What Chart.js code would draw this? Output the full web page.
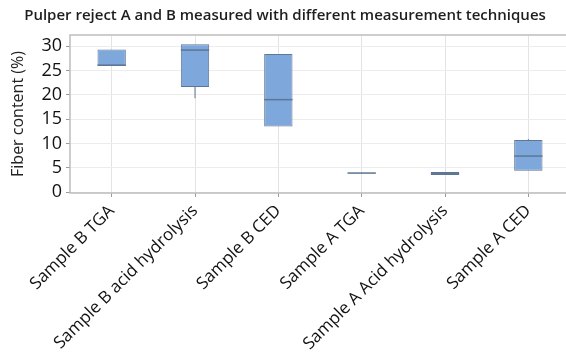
<!DOCTYPE html>
<html>
<head>
<meta charset="utf-8">
<script src="https://cdn.jsdelivr.net/npm/chart.js@4.4.1/dist/chart.umd.min.js"></script>
<style>
  html, body { margin: 0; padding: 0; background: #fff; overflow: hidden; }
  #wrap { width: 570px; height: 359px; }
</style>
</head>
<body>
<div id="wrap"><canvas id="boxChart" width="570" height="359"></canvas></div>
<script>
const categories = [
  'Sample B TGA',
  'Sample B acid hydrolysis',
  'Sample B CED',
  'Sample A TGA',
  'Sample A Acid hydrolysis',
  'Sample A CED'
];
// box statistics (Fiber content, %)
const whiskerLow = [25.9, 19.3, 13.5, 3.9, 3.5, 4.4];
const q1 = [25.9, 21.6, 13.5, 3.85, 3.5, 4.4];
const median = [26.1, 29.2, 19.0, 3.9, 3.8, 7.4];
const q3 = [29.3, 30.4, 28.4, 3.95, 4.1, 10.7];
const whiskerHigh = [29.3, 30.4, 28.4, 3.9, 4.1, 10.9];
const yTicks = [0, 5, 10, 15, 20, 25, 30];

const boxColor = '#7ea8dc';
const edgeColor = '#5f7694';

const boxExtras = {
  id: 'boxExtras',
  afterDatasetsDraw(chart) {
    const { ctx, scales: { x, y } } = chart;
    const meta = chart.getDatasetMeta(0);
    ctx.save();
    ctx.strokeStyle = edgeColor;
    meta.data.forEach((bar, i) => {
      const cx = x.getPixelForValue(i);
      const half = bar.width / 2;
      // whiskers
      ctx.lineWidth = 1;
      ctx.beginPath();
      ctx.moveTo(cx, y.getPixelForValue(q1[i]));
      ctx.lineTo(cx, y.getPixelForValue(whiskerLow[i]));
      ctx.moveTo(cx, y.getPixelForValue(q3[i]));
      ctx.lineTo(cx, y.getPixelForValue(whiskerHigh[i]));
      ctx.stroke();
      // median
      ctx.lineWidth = 1.5;
      ctx.beginPath();
      const my = y.getPixelForValue(median[i]);
      ctx.moveTo(cx - half, my);
      ctx.lineTo(cx + half, my);
      ctx.stroke();
    });
    ctx.restore();
  }
};

const frame = {
  id: 'frame',
  beforeDatasetsDraw(chart) {
    const { ctx, chartArea: a } = chart;
    ctx.save();
    ctx.strokeStyle = '#bdbdbd';
    ctx.lineWidth = 1.5;
    ctx.strokeRect(a.left, a.top, a.right - a.left, a.bottom - a.top);
    ctx.restore();
  }
};

const ctx = document.getElementById('boxChart').getContext('2d');
new Chart(ctx, {
  type: 'bar',
  data: {
    labels: categories,
    datasets: [{
      label: 'Fiber content',
      data: q1.map((v, i) => [v, q3[i]]),
      backgroundColor: boxColor,
      borderColor: edgeColor,
      borderWidth: 1,
      borderSkipped: false,
      barPercentage: 0.34,
      categoryPercentage: 1
    }]
  },
  options: {
    responsive: false,
    animation: false,
    layout: { padding: 0 },
    plugins: {
      legend: { display: false },
      tooltip: { enabled: false },
      title: {
        display: true,
        text: 'Pulper reject A and B measured with different measurement techniques',
        color: '#1e1e1e',
        font: { family: 'Open Sans', size: 15, weight: '600' },
        padding: { top: 7, bottom: 10 }
      }
    },
    scales: {
      x: {
        grid: { offset: false, color: '#e3e3e3', tickLength: 4, tickColor: '#9a9a9a' },
        border: { display: false },
        ticks: {
          minRotation: 45,
          maxRotation: 45,
          padding: 4,
          color: '#111',
          font: { family: 'Open Sans', size: 17 }
        },
        afterFit(s) { s.height = 166; }
      },
      y: {
        min: -0.2,
        max: 32.3,
        afterBuildTicks(s) { s.ticks = yTicks.map(v => ({ value: v })); },
        grid: { color: '#ececec', tickLength: 4, tickColor: '#9a9a9a' },
        border: { display: false },
        ticks: {
          padding: 4,
          color: '#111',
          font: { family: 'Open Sans', size: 18 }
        },
        title: {
          display: true,
          text: 'Fiber content (%)',
          color: '#222',
          font: { family: 'Open Sans', size: 16 },
          padding: { top: 9, bottom: 0 }
        },
        afterFit(s) { s.width = 70; }
      }
    }
  },
  plugins: [frame, boxExtras]
});
</script>
</body>
</html>
